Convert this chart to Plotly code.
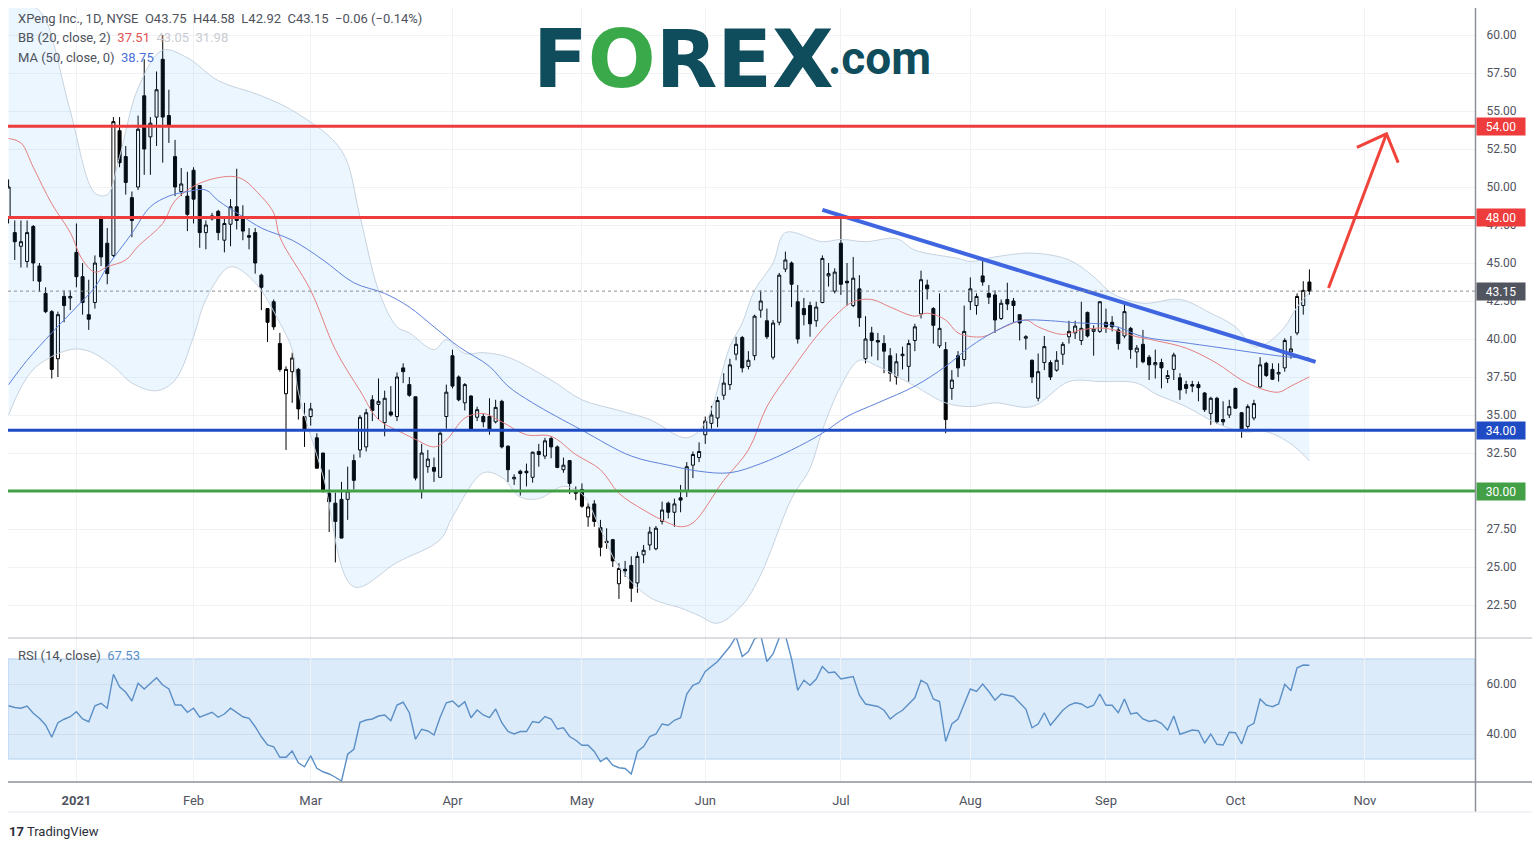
import plotly.graph_objects as go
import pandas as pd

# ---------------- data ----------------
open_p = [48.0, 47.0, 46.1, 45.1, 47.4, 44.8, 43.0, 41.8, 38.7, 42.8,
          42.7, 45.7, 44.1, 41.6, 42.4, 48.0, 46.3, 45.5, 53.7, 52.0,
          49.3, 50.0, 56.0, 53.3, 54.6, 58.4, 54.7, 52.0, 49.7, 49.4,
          51.1, 50.1, 47.0, 47.9, 48.4, 46.5, 47.55, 48.7, 48.05, 46.8,
          47.0, 44.2, 42.0, 42.45, 39.7, 36.4, 37.85, 38.0, 34.9, 34.9,
          33.5, 32.5, 29.85, 29.2, 29.45, 29.45, 32.0, 32.7, 32.9, 36.0,
          35.7, 34.5, 35.2, 34.9, 38.1, 37.0, 36.2, 30.0, 31.6, 31.55,
          30.9, 34.9, 38.9, 37.5, 35.8, 36.25, 34.85, 34.9, 34.9, 34.55,
          35.9, 32.95, 30.8, 31.3, 31.3, 30.9, 32.6, 32.3, 33.45, 32.9,
          31.4, 32.0, 30.0, 30.1, 28.3, 29.15, 27.6, 26.7, 26.8, 23.9,
          24.85, 25.1, 23.95, 25.8, 26.45, 26.2, 28.0, 29.2, 28.6, 29.55,
          30.0, 31.7, 32.2, 33.7, 34.45, 34.8, 36.3, 37.0, 39.0, 40.1,
          38.2, 38.9, 41.9, 41.2, 38.8, 41.1, 44.6, 45.0, 42.45, 42.0,
          42.2, 41.2, 42.4, 44.15, 43.15, 46.3, 43.8, 42.2, 43.3, 38.7,
          40.4, 39.9, 39.7, 38.9, 37.5, 38.9, 38.2, 39.9, 41.65, 43.55,
          42.0, 39.55, 39.3, 36.75, 38.9, 38.65, 42.45, 42.2, 44.15, 43.0,
          42.9, 41.35, 42.6, 42.5, 41.6, 40.05, 38.6, 36.1, 38.45, 38.45,
          37.95, 39.0, 40.15, 40.4, 39.9, 41.75, 40.5, 40.5, 41.1, 41.1,
          40.6, 40.2, 40.7, 39.15, 39.65, 38.8, 38.3, 38.45, 37.4, 38.0,
          37.45, 37.0, 37.0, 37.0, 36.45, 35.1, 36.1, 34.7, 35.0, 36.75,
          35.15, 34.25, 34.8, 36.85, 38.4, 38.0, 37.7, 38.1, 39.15, 40.4,
          42.2, 43.75]
high_p = [50.5, 47.8, 47.8, 47.8, 47.5, 45.0, 43.4, 41.9, 41.8, 43.2,
          43.2, 47.6, 45.0, 43.9, 45.5, 48.1, 47.3, 54.6, 54.6, 52.7,
          49.7, 54.7, 58.4, 54.6, 57.6, 60.0, 56.4, 53.1, 51.25, 51.0,
          51.3, 50.1, 47.8, 48.3, 48.5, 48.0, 49.2, 51.2, 48.8, 47.3,
          47.3, 44.3, 42.0, 42.6, 40.4, 38.2, 39.1, 38.1, 35.8, 35.8,
          33.8, 32.5, 31.4, 29.9, 30.6, 31.6, 32.4, 35.0, 35.4, 36.3,
          37.4, 36.6, 36.9, 37.8, 38.4, 37.5, 36.2, 33.1, 32.7, 32.2,
          34.0, 37.0, 39.3, 37.6, 37.1, 36.3, 35.55, 35.1, 36.1, 36.0,
          36.0, 33.0, 31.1, 31.4, 31.8, 32.6, 33.1, 33.5, 33.6, 33.0,
          32.2, 32.0, 30.3, 30.5, 29.2, 29.4, 28.1, 27.55, 26.85, 25.25,
          25.4, 25.7, 26.0, 26.45, 27.65, 27.7, 29.3, 29.3, 29.5, 30.4,
          31.9, 32.6, 33.2, 34.9, 35.6, 36.2, 37.75, 38.7, 40.15, 40.2,
          39.2, 41.6, 43.2, 42.0, 41.25, 44.35, 45.75, 45.1, 43.55, 42.7,
          42.45, 42.45, 45.5, 45.0, 44.65, 48.05, 45.0, 45.4, 44.2, 41.5,
          40.8, 40.4, 40.25, 39.4, 39.05, 39.5, 39.95, 41.0, 44.5, 43.9,
          42.1, 43.0, 39.8, 37.95, 39.2, 42.2, 44.05, 43.0, 45.2, 43.55,
          43.2, 42.6, 43.7, 42.7, 41.6, 40.25, 38.65, 39.05, 40.2, 38.6,
          39.2, 39.8, 41.2, 41.2, 42.45, 41.8, 40.9, 42.5, 42.0, 41.5,
          40.8, 42.45, 40.8, 39.6, 40.6, 38.95, 39.3, 38.7, 37.95, 39.1,
          37.75, 37.25, 37.25, 37.2, 36.5, 36.2, 36.2, 35.9, 36.0, 36.8,
          35.2, 35.7, 36.0, 38.8, 38.5, 38.4, 38.4, 40.05, 40.2, 43.0,
          43.8, 44.58]
low_p = [47.6, 45.2, 44.7, 44.7, 43.8, 43.1, 41.7, 37.4, 37.5, 41.1,
         41.9, 43.4, 41.6, 40.6, 42.0, 44.8, 43.6, 45.4, 51.3, 49.5,
         46.7, 49.8, 50.8, 50.8, 52.7, 51.6, 52.9, 49.4, 49.4, 47.1,
         47.6, 46.0, 45.9, 47.8, 46.5, 45.7, 46.1, 47.2, 46.5, 45.9,
         44.3, 41.9, 39.8, 40.6, 37.85, 32.7, 35.8, 34.7, 32.9, 34.3,
         31.5, 29.9, 27.3, 25.3, 26.9, 28.1, 30.1, 32.2, 32.6, 34.6,
         34.7, 33.6, 34.9, 34.6, 37.1, 36.2, 30.7, 29.5, 31.2, 30.6,
         30.9, 34.1, 36.75, 35.9, 35.3, 34.0, 34.6, 34.2, 33.7, 34.45,
         32.8, 30.6, 30.4, 29.7, 30.3, 30.55, 31.6, 32.1, 32.15, 31.5,
         31.2, 29.8, 29.4, 28.9, 27.65, 27.65, 25.7, 26.2, 25.0, 22.9,
         24.35, 22.7, 23.3, 25.25, 26.1, 26.1, 27.8, 28.2, 27.65, 28.6,
         29.6, 30.85, 31.9, 33.1, 34.1, 34.2, 36.0, 36.65, 38.6, 37.8,
         38.0, 38.6, 41.4, 40.0, 38.65, 40.9, 44.4, 42.1, 39.7, 40.9,
         40.15, 40.8, 42.35, 43.45, 43.0, 42.9, 42.2, 42.1, 40.8, 38.4,
         38.85, 38.6, 37.75, 37.2, 37.0, 38.0, 37.2, 39.2, 41.35, 42.6,
         39.7, 39.4, 33.8, 36.0, 37.5, 38.2, 41.9, 41.6, 43.5, 42.3,
         40.4, 41.25, 41.9, 41.1, 39.9, 39.3, 37.1, 35.9, 37.95, 37.3,
         37.85, 38.3, 39.7, 40.0, 39.6, 40.1, 38.9, 40.4, 40.4, 40.5,
         39.3, 40.05, 38.7, 38.1, 38.4, 37.3, 37.4, 36.75, 37.1, 37.3,
         36.0, 36.4, 36.5, 35.9, 35.2, 34.35, 34.4, 34.3, 34.8, 35.4,
         33.5, 34.1, 34.65, 36.8, 37.5, 37.3, 37.2, 37.85, 38.7, 40.25,
         41.6, 42.92]
close_p = [50.0, 46.4, 46.4, 47.0, 45.0, 43.8, 41.8, 38.0, 41.6, 42.2,
           42.8, 44.1, 42.4, 41.3, 45.0, 45.4, 44.3, 54.3, 51.6, 50.3,
           47.8, 53.8, 52.5, 54.2, 56.4, 54.6, 54.0, 50.0, 50.2, 48.2,
           49.2, 47.0, 47.5, 48.1, 47.0, 47.6, 48.7, 47.8, 47.1, 46.7,
           45.0, 43.4, 41.1, 40.8, 38.0, 38.0, 38.75, 35.4, 34.0, 35.4,
           31.5, 30.0, 29.3, 28.0, 26.9, 30.0, 30.7, 34.85, 35.15, 35.3,
           35.9, 36.1, 35.0, 37.5, 37.85, 36.3, 30.85, 32.5, 32.1, 31.3,
           33.8, 36.5, 36.9, 36.0, 37.0, 34.05, 35.35, 34.55, 34.0, 35.5,
           32.9, 31.4, 30.9, 31.15, 31.2, 32.55, 32.4, 33.3, 32.9, 31.55,
           31.7, 30.5, 29.85, 29.0, 28.95, 28.0, 26.3, 26.6, 25.4, 24.9,
           24.75, 23.6, 25.7, 26.1, 27.3, 27.55, 28.75, 28.6, 29.15, 29.4,
           31.6, 32.4, 32.6, 34.6, 35.0, 35.95, 37.1, 38.3, 39.65, 38.1,
           38.6, 41.5, 42.5, 40.15, 41.05, 44.2, 45.2, 43.6, 40.0, 41.6,
           41.0, 42.1, 45.3, 44.3, 44.4, 43.6, 43.7, 44.0, 41.4, 40.0,
           39.9, 39.8, 39.2, 37.75, 38.5, 39.0, 39.7, 40.8, 43.9, 43.3,
           40.9, 40.7, 34.7, 37.3, 38.1, 40.5, 43.3, 42.8, 43.75, 42.75,
           41.25, 42.35, 42.3, 42.2, 41.05, 40.15, 37.5, 37.85, 39.5, 37.5,
           38.6, 39.65, 40.5, 40.85, 40.7, 40.2, 40.65, 42.45, 40.8, 40.8,
           39.7, 41.8, 39.3, 39.4, 38.5, 38.3, 38.45, 38.1, 37.6, 38.95,
           36.65, 36.75, 36.9, 36.8, 35.35, 36.1, 34.55, 34.55, 35.55, 35.45,
           34.0, 35.55, 35.75, 38.3, 37.6, 37.35, 37.8, 39.9, 39.35, 42.8,
           43.2, 43.15]

rsi_vals = [51.3, 50.6, 50.3, 51.2, 48.3, 46.3, 43.6, 38.7, 44.5, 45.9,
            46.9, 48.9, 46.0, 44.9, 51.3, 52.3, 50.3, 63.9, 58.9, 56.7,
            53.2, 60.3, 58.0, 60.3, 62.5, 59.6, 58.0, 51.6, 51.6, 48.7,
            50.3, 46.7, 47.6, 48.7, 46.7, 48.0, 50.3, 48.5, 46.9, 46.3,
            42.9, 38.9, 35.6, 34.9, 30.7, 30.7, 33.2, 28.5, 26.9, 31.3,
            26.3, 24.9, 24.0, 22.7, 21.2, 31.9, 33.9, 44.7, 45.6, 46.0,
            47.2, 47.6, 45.3, 51.6, 52.7, 48.5, 37.9, 41.9, 41.2, 39.6,
            46.7, 52.5, 53.2, 50.9, 52.9, 46.5, 49.6, 47.6, 46.5, 50.0,
            44.5, 41.0, 40.0, 41.0, 41.0, 45.0, 44.5, 47.0, 46.0, 42.0,
            42.5, 39.0, 37.5, 35.5, 35.5, 33.0, 29.0, 30.5, 27.5, 26.5,
            26.2, 24.0, 33.0, 35.0, 39.0, 40.0, 44.0, 43.5, 45.5, 46.5,
            56.0, 59.5, 60.5, 65.0, 67.0, 69.0, 72.0, 75.0, 79.0, 71.0,
            73.0, 78.0, 79.5, 69.0, 72.0, 78.5, 79.5, 70.0, 57.5, 61.5,
            59.5, 62.0, 67.0, 64.5, 64.8, 62.0, 62.5, 63.0, 55.5, 52.0,
            51.5, 51.0, 49.5, 46.0, 48.0, 49.5, 52.0, 54.5, 61.5, 60.0,
            54.0, 53.0, 37.0, 44.0, 46.0, 52.0, 58.0, 57.0, 60.0, 57.0,
            53.5, 56.0, 55.5, 55.0, 52.5, 50.0, 42.5, 44.0, 48.5, 43.5,
            46.5, 49.5, 51.5, 52.5, 52.0, 50.5, 51.5, 56.0, 51.5, 51.5,
            48.5, 54.0, 48.0, 48.5, 46.0, 45.0, 45.5, 44.3, 41.6, 47.2,
            39.9, 40.8, 41.6, 41.3, 36.3, 40.0, 35.9, 35.6, 40.7, 40.5,
            36.0, 42.9, 44.3, 54.0, 51.6, 50.9, 52.0, 59.9, 57.3, 66.5,
            67.6, 67.5]

# indicator readings (bar number -> value)
bb_up_bar = [0, 4, 6, 10, 14, 16, 18, 21, 25, 29, 34, 41, 47, 54, 57, 60, 63, 65, 69, 71, 74,
             77, 81, 88, 93, 99, 104, 110, 113, 117, 119, 121, 124, 126, 132, 135, 139, 144,
             147, 154, 156, 160, 166, 172, 176, 179, 184, 190, 195, 199, 202, 204, 207, 209, 211]
bb_up_val = [63.5, 62.0, 61.0, 55.0, 49.6, 49.5, 52.0, 56.5, 59.0, 58.5, 57.0, 56.0, 54.8, 52.4,
             48.05, 43.2, 40.8, 40.4, 39.3, 39.95, 39.05, 39.1, 38.8, 37.3, 36.0, 35.3, 34.7,
             33.5, 34.5, 39.5, 41.05, 43.2, 45.0, 47.0, 46.4, 46.55, 46.4, 46.6, 45.85, 45.3,
             45.1, 45.4, 45.65, 45.2, 44.1, 43.0, 42.35, 42.6, 41.7, 40.8, 39.5, 39.7, 40.8,
             42.1, 43.05]
bb_lo_bar = [0, 4, 10, 13, 17, 20, 24, 27, 30, 32, 36, 40, 44, 46, 47, 51, 56, 63, 70, 72, 77,
             80, 83, 86, 90, 93, 96, 99, 104, 109, 112, 115, 119, 122, 127, 130, 132, 135, 138,
             141, 147, 152, 156, 160, 166, 172, 177, 183, 186, 191, 196, 200, 204, 208, 211]
bb_lo_val = [35.0, 38.0, 39.3, 39.2, 38.2, 37.1, 36.6, 37.3, 40.15, 42.6, 44.75, 43.7, 41.05,
             39.3, 36.5, 31.0, 23.7, 25.3, 26.8, 28.3, 31.2, 30.9, 29.6, 29.5, 30.3, 29.8, 27.5,
             25.0, 23.0, 22.3, 21.8, 21.3, 22.5, 24.5, 29.5, 31.5, 34.0, 36.9, 38.6, 38.2, 36.9,
             35.8, 35.55, 35.8, 35.55, 37.2, 37.2, 37.1, 36.4, 35.55, 34.45, 33.9, 33.9, 33.1,
             31.98]
bb_mid_bar = [0, 2, 4, 7, 10, 12, 14, 16, 19, 21, 25, 27, 31, 36, 38, 40, 43, 44, 49, 53, 57,
              60, 64, 66, 69, 71, 74, 77, 80, 84, 88, 92, 96, 99, 103, 107, 109, 111, 116, 120,
              123, 127, 131, 134, 137, 140, 143, 147, 149, 152, 154, 158, 161, 165, 167, 171,
              174, 178, 183, 186, 191, 196, 200, 203, 206, 208, 211]
bb_mid_val = [53.2, 52.9, 51.3, 48.9, 47.0, 45.2, 44.4, 44.75, 45.2, 46.1, 47.6, 49.1, 50.25,
              50.7, 50.5, 49.8, 48.3, 46.7, 43.2, 39.3, 36.6, 34.7, 33.8, 33.4, 32.9, 33.35,
              34.8, 35.1, 34.55, 33.7, 33.6, 32.4, 31.4, 29.85, 28.75, 27.9, 27.65, 27.9, 30.7,
              32.7, 35.55, 37.95, 40.15, 41.5, 42.45, 42.6, 42.1, 41.5, 41.7, 41.25, 40.4,
              40.15, 40.7, 41.25, 40.8, 40.3, 40.6, 40.7, 40.15, 39.9, 39.4, 38.4, 37.3, 36.75,
              36.5, 36.9, 37.51]
ma_bar = [0, 3, 7, 11, 14, 16, 20, 23, 26, 29, 32, 34, 38, 41, 46, 51, 56, 61, 65, 69, 73, 78,
          81, 85, 93, 101, 107, 112, 117, 122, 127, 132, 136, 141, 147, 152, 156, 160, 164,
          169, 172, 174, 179, 184, 190, 197, 203, 208, 211]
ma_val = [37.0, 38.6, 40.4, 42.1, 43.4, 44.75, 46.95, 48.7, 49.4, 49.7, 49.8, 49.1, 48.05,
          47.3, 46.5, 45.2, 43.7, 43.0, 42.1, 40.8, 39.5, 38.2, 36.9, 35.8, 34.0, 32.3, 31.7,
          31.3, 31.2, 31.8, 32.7, 33.8, 34.9, 35.8, 36.9, 38.2, 39.5, 40.5, 41.2, 41.2, 41.1,
          41.05, 40.9, 40.15, 39.8, 39.4, 39.05, 38.8, 38.75]

# user drawings
trend_bar = [132.0, 212.0]
trend_val = [48.5, 38.5]
arrow_bar = [214.1, 223.5]
arrow_val = [43.35, 53.5]
arrow_head_bar = [218.7, 223.5, 225.4]
arrow_head_val = [52.6, 53.5, 51.6]

levels = [54.0, 48.0, 34.0, 30.0]
level_colors = ["#ee3b3b", "#ee3b3b", "#1f4bc4", "#43a047"]
last_price = 43.15

tick_dates = ["2021-01-04", "2021-02-01", "2021-03-01", "2021-04-01", "2021-05-03",
              "2021-06-01", "2021-07-01", "2021-08-02", "2021-09-01", "2021-10-01", "2021-11-01"]
tick_labels = ["<b>2021</b>", "Feb", "Mar", "Apr", "May", "Jun", "Jul", "Aug", "Sep", "Oct", "Nov"]
price_ticks = [22.5, 25.0, 27.5, 30.0, 32.5, 35.0, 37.5, 40.0, 42.5, 45.0, 47.5, 50.0,
               52.5, 55.0, 57.5, 60.0]
rsi_ticks = [40.0, 60.0]

holidays = ["2020-12-25", "2021-01-01", "2021-01-18", "2021-02-15", "2021-04-02",
            "2021-05-31", "2021-07-05", "2021-09-06", "2021-11-25"]

# ---------------- layout helpers (page pixels; the page body adds an 8px offset) ------
OFF = 8
W, H = 1540 - OFF, 845 - OFF
PL, PR, PT, PB = 8, 1475, 8, 782          # plot area in page pixels
ML, MR, MT, MB = PL - OFF, W - (PR - OFF), PT - OFF, H - (PB - OFF)
PW, PH = PR - PL, PB - PT


def fx(px):
    return (px - PL) / PW


def fy(py):
    return (PB - py) / PH


days = [d.strftime("%Y-%m-%d") for d in pd.bdate_range("2020-12-16", "2021-12-31")]
days = [d for d in days if d not in holidays]
bars = list(range(len(close_p)))
tick_pos = [days.index(d) for d in tick_dates]

BAR0_PX, BAR_W = 8.6, 6.165
xr = [(PL - BAR0_PX) / BAR_W, (PR - BAR0_PX) / BAR_W]
split = fy(638)
PY0, PSCALE = 35.0, 15.2          # page y of 60.00 and px per price unit
price_range = [60 - (638 - PY0) / PSCALE, 60 + (PY0 - PT) / PSCALE]
rsi_range = [60 - (PB - 684) / 2.5, 60 + (684 - 638) / 2.5]

fig = go.Figure()

# Bollinger band
fig.add_trace(go.Scatter(x=bb_up_bar, y=bb_up_val, mode="lines",
                         line=dict(color="#c7d3e0", width=1, shape="spline"),
                         hoverinfo="skip", showlegend=False))
fig.add_trace(go.Scatter(x=bb_lo_bar, y=bb_lo_val, mode="lines", fill="tonexty",
                         fillcolor="rgba(33,150,243,0.085)",
                         line=dict(color="#c7d3e0", width=1, shape="spline"),
                         hoverinfo="skip", showlegend=False))
fig.add_trace(go.Scatter(x=bb_mid_bar, y=bb_mid_val, mode="lines",
                         line=dict(color="#e58080", width=1, shape="spline"),
                         hoverinfo="skip", showlegend=False))
fig.add_trace(go.Scatter(x=ma_bar, y=ma_val, mode="lines",
                         line=dict(color="#5f82dc", width=1, shape="spline"),
                         hoverinfo="skip", showlegend=False))

fig.add_trace(go.Candlestick(x=bars, open=open_p, high=high_p, low=low_p, close=close_p,
                             increasing=dict(line=dict(color="#000000", width=1),
                                             fillcolor="#ffffff"),
                             decreasing=dict(line=dict(color="#000000", width=1),
                                             fillcolor="#000000"),
                             whiskerwidth=0, showlegend=False, hoverinfo="skip"))

# RSI
fig.add_trace(go.Scatter(x=bars, y=rsi_vals, mode="lines", xaxis="x2", yaxis="y2",
                         line=dict(color="#5b8fc6", width=1.4),
                         hoverinfo="skip", showlegend=False))

# trend line and arrow
fig.add_trace(go.Scatter(x=trend_bar, y=trend_val, mode="lines",
                         line=dict(color="#3f66e0", width=4), hoverinfo="skip",
                         showlegend=False))
fig.add_trace(go.Scatter(x=arrow_bar, y=arrow_val, mode="lines",
                         line=dict(color="#f0433a", width=3), hoverinfo="skip",
                         showlegend=False, cliponaxis=False))
fig.add_trace(go.Scatter(x=arrow_head_bar, y=arrow_head_val, mode="lines",
                         line=dict(color="#f0433a", width=3), hoverinfo="skip",
                         showlegend=False, cliponaxis=False))

shapes = []
for lv, col in zip(levels, level_colors):
    shapes.append(dict(type="line", xref="paper", yref="y", x0=0, x1=1, y0=lv, y1=lv,
                       line=dict(color=col, width=3), layer="above"))
shapes.append(dict(type="line", xref="paper", yref="y", x0=0, x1=1, y0=last_price,
                   y1=last_price, line=dict(color="#8a8d96", width=1, dash="dot"),
                   layer="above"))
# RSI band
shapes.append(dict(type="rect", xref="paper", yref="y2", x0=0, x1=1, y0=30, y1=70,
                   fillcolor="#dcebfa", line=dict(color="#b0d0ef", width=1), layer="below"))
# frame lines
shapes.append(dict(type="line", xref="paper", yref="paper", x0=fx(7), x1=fx(1533),
                   y0=split, y1=split, line=dict(color="#b8bbc3", width=1)))
shapes.append(dict(type="line", xref="paper", yref="paper", x0=fx(7), x1=fx(1533),
                   y0=fy(782), y1=fy(782), line=dict(color="#8d9099", width=1.5)))
shapes.append(dict(type="line", xref="paper", yref="paper", x0=fx(1475.5), x1=fx(1475.5),
                   y0=fy(812), y1=fy(8), line=dict(color="#8d9099", width=1.5)))
shapes.append(dict(type="line", xref="paper", yref="paper", x0=fx(8), x1=fx(1533),
                   y0=fy(812), y1=fy(812), line=dict(color="#e6e8ee", width=1)))
shapes.append(dict(type="line", xref="paper", yref="paper", x0=fx(1533), x1=fx(1533),
                   y0=fy(812), y1=fy(8), line=dict(color="#e6e8ee", width=1)))

FONT = "Roboto"
ann = []
# level / last-price tags on the price scale
tag_vals = levels + [last_price]
tag_cols = level_colors + ["#51555f"]
for v, c in zip(tag_vals, tag_cols):
    ann.append(dict(xref="paper", yref="y", x=1, y=v, xanchor="left", yanchor="middle",
                    xshift=1, text="%.2f" % v, showarrow=False, width=46, height=15,
                    bgcolor=c, font=dict(family=FONT, size=12, color="white"), align="center"))

GREY = "#4e525c"
ann.append(dict(xref="paper", yref="paper", x=fx(16), y=fy(19), xanchor="left",
                yanchor="middle", showarrow=False,
                text="XPeng Inc., 1D, NYSE&nbsp;&nbsp;O43.75&nbsp;&nbsp;H44.58&nbsp;&nbsp;L42.92"
                     "&nbsp;&nbsp;C43.15&nbsp;&nbsp;\u22120.06 (\u22120.14%)",
                font=dict(family=FONT, size=13, color=GREY)))
ann.append(dict(xref="paper", yref="paper", x=fx(16), y=fy(38), xanchor="left",
                yanchor="middle", showarrow=False,
                text="BB (20, close, 2)&nbsp;&nbsp;<span style='color:#e05353'>37.51</span>"
                     "&nbsp;&nbsp;<span style='color:#c9ccd3'>43.05&nbsp;&nbsp;31.98</span>",
                font=dict(family=FONT, size=13, color=GREY)))
ann.append(dict(xref="paper", yref="paper", x=fx(16), y=fy(57), xanchor="left",
                yanchor="middle", showarrow=False,
                text="MA (50, close, 0)&nbsp;&nbsp;<span style='color:#4b70d8'>38.75</span>",
                font=dict(family=FONT, size=13, color=GREY)))
ann.append(dict(xref="paper", yref="paper", x=fx(16), y=fy(655), xanchor="left",
                yanchor="middle", showarrow=False,
                text="RSI (14, close)&nbsp;&nbsp;<span style='color:#5b8fc6'>67.53</span>",
                font=dict(family=FONT, size=13, color=GREY)))
# FOREX.com logo
ann.append(dict(xref="paper", yref="paper", x=fx(531), y=fy(59), xanchor="left",
                yanchor="middle", showarrow=False,
                text="<b>F<span style='color:#3aa94a'>O</span>REX</b>",
                font=dict(family="DejaVu Sans", size=80, color="#0f4d5c")))
ann.append(dict(xref="paper", yref="paper", x=fx(826), y=fy(58), xanchor="left",
                yanchor="middle", showarrow=False, text="<b>.com</b>",
                font=dict(family="Roboto", size=46, color="#0f4d5c")))
# TradingView mark
ann.append(dict(xref="paper", yref="paper", x=fx(7), y=fy(831), xanchor="left",
                yanchor="middle", showarrow=False,
                text="<b>17</b> TradingView",
                font=dict(family=FONT, size=13, color="#2a2e39")))

fig.update_layout(
    width=W, height=H, margin=dict(l=ML, r=MR, t=MT, b=MB, pad=0),
    paper_bgcolor="white", plot_bgcolor="white",
    showlegend=False, shapes=shapes, annotations=ann,
    xaxis=dict(domain=[0, 1], range=xr, anchor="y", tickvals=tick_pos, showticklabels=False,
               showgrid=True, gridcolor="#f0f2f6", zeroline=False, showline=False,
               rangeslider=dict(visible=False), fixedrange=True),
    xaxis2=dict(domain=[0, 1], range=xr, anchor="y2", matches="x", tickvals=tick_pos,
                ticktext=tick_labels, showgrid=True, gridcolor="#f0f2f6", zeroline=False,
                showline=False, ticks="outside", ticklen=6, tickcolor="rgba(0,0,0,0)",
                tickfont=dict(family=FONT, size=13, color="#50535e")),
    yaxis=dict(domain=[split, 1], range=price_range, side="right", anchor="x",
               tickvals=price_ticks, ticktext=["%.2f" % v for v in price_ticks],
               showgrid=True, gridcolor="#f0f2f6", zeroline=False, showline=False,
               ticks="outside", ticklen=8, tickcolor="rgba(0,0,0,0)",
               tickfont=dict(family=FONT, size=12, color="#50535e")),
    yaxis2=dict(domain=[0, split], range=rsi_range, side="right", anchor="x2",
                tickvals=rsi_ticks, ticktext=["%.2f" % v for v in rsi_ticks],
                showgrid=True, gridcolor="rgba(42,46,57,0.07)", zeroline=False,
                showline=False, ticks="outside", ticklen=8, tickcolor="rgba(0,0,0,0)",
                tickfont=dict(family=FONT, size=12, color="#50535e")),
)

fig.write_html("out.html")
